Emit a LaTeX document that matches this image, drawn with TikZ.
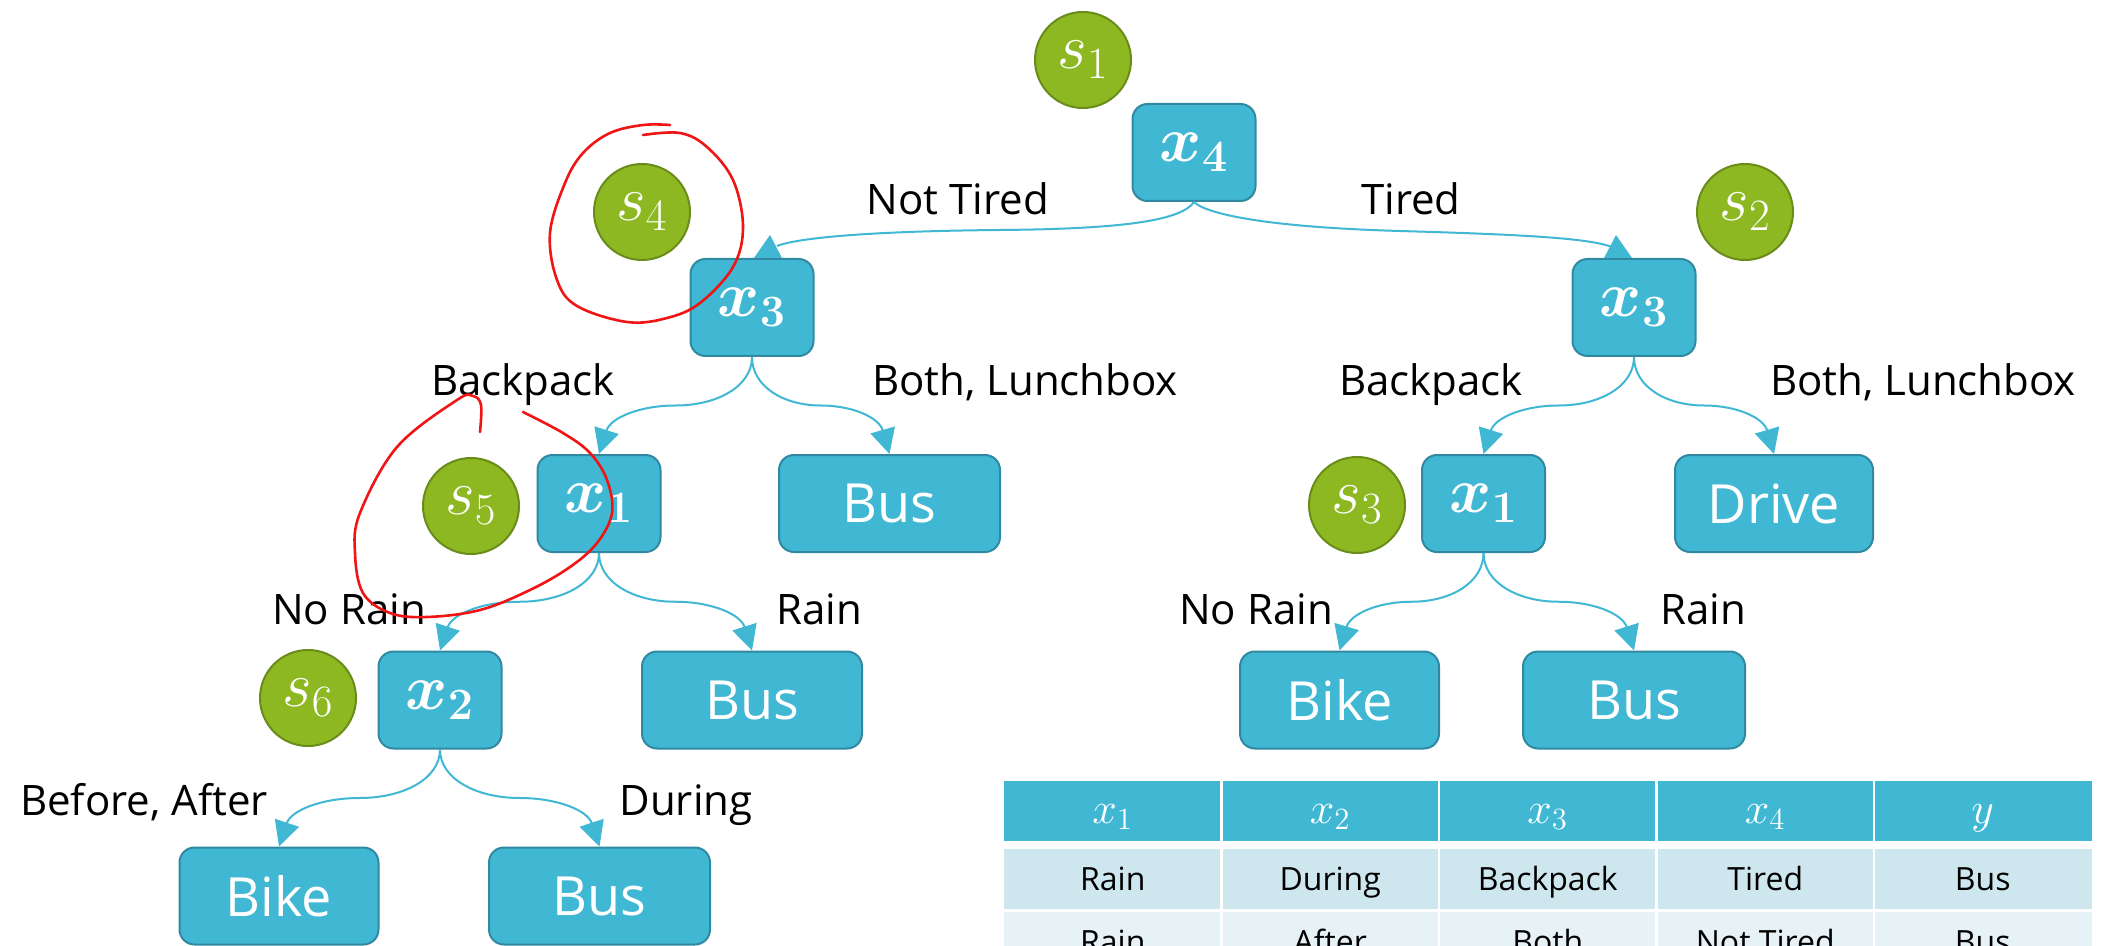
\RequirePackage{fix-cm}
\documentclass[tikz,border=0pt]{standalone}
\usepackage{amsmath}
\usepackage{fontspec}
\setmainfont{Open Sans}
\usetikzlibrary{arrows.meta,calc}
\definecolor{boxfill}{HTML}{41B8D3}
\definecolor{boxedge}{HTML}{3089A0}
\definecolor{circfill}{HTML}{8DB822}
\definecolor{circedge}{HTML}{6A8C1A}
\definecolor{linec}{HTML}{41B8D3}
\definecolor{rowa}{HTML}{CEE6EE}
\definecolor{rowb}{HTML}{E7F2F6}
\definecolor{redpen}{HTML}{F01414}
\newcommand\tbranch[2]{%
  \path ($(#1.south)!0.5!(#2.north)$) coordinate (m#1#2);
  \draw[conn] (#1.south) .. controls ($(#1.south)!0.6!(#1.south |- m#1#2)$) and ($(m#1#2)!0.55!(#1.south |- m#1#2)$) .. (m#1#2)
     .. controls ($(m#1#2)!0.47!(#2.north |- m#1#2)$) and ($(#2.north)!0.7!(#2.north |- m#1#2)!0.15!(m#1#2)$) .. (#2.north);
}
\begin{document}
\begin{tikzpicture}[x=0.5pt,y=-0.5pt,
  box/.style={draw=boxedge, fill=boxfill, rounded corners=7.5pt, line width=1pt,
    minimum height=48.5pt, text=white, inner sep=0pt, font=\fontsize{27}{27}\selectfont},
  mbox/.style={box, minimum width=61.5pt, font=\fontsize{32}{32}\selectfont},
  circ/.style={circle, draw=circedge, fill=circfill, line width=1pt, minimum size=48pt,
    inner sep=0pt, text=white, font=\fontsize{32}{32}\selectfont},
  lab/.style={font=\fontsize{21}{21}\selectfont, anchor=base, inner sep=0pt, text=black},
  conn/.style={draw=linec, line width=1pt, -{Triangle[length=12.5pt,width=12.5pt]}},
  topline/.style={draw=linec, line width=1pt},
  cell/.style={font=\fontsize{16}{16}\selectfont, anchor=base, inner sep=0pt, text=black},
  hdr/.style={font=\fontsize{22}{22}\selectfont, anchor=base, inner sep=0pt, text=white},
  pen/.style={draw=redpen, line width=1.3pt, line cap=round, line join=round}]
\clip (0,0) rectangle (2108,946);
\fill[white] (0,0) rectangle (2108,946);

% circles
\node[circ] (s1) at (1083,60) {$s_1$};
\node[circ] (s4) at (642,212) {$s_4$};
\node[circ] (s2) at (1745,212) {$s_2$};
\node[circ] (s5) at (471,506) {$s_5$};
\node[circ] (s3) at (1357,505) {$s_3$};
\node[circ] (s6) at (308,698) {$s_6$};

% boxes
\node[mbox] (x4) at (1194,152.5) {$\boldsymbol{x_4}$};
\node[mbox] (x3l) at (752,307.5) {$\boldsymbol{x_3}$};
\node[mbox] (x3r) at (1634,307.5) {$\boldsymbol{x_3}$};
\node[mbox] (x1l) at (599,503.5) {$\boldsymbol{x_1}$};
\node[mbox] (x1r) at (1483.5,503.5) {$\boldsymbol{x_1}$};
\node[mbox] (x2) at (440,700) {$\boldsymbol{x_2}$};
\node[box, minimum width=110.5pt] (busa) at (889.5,503.5) {Bus};
\node[box, minimum width=99pt] (drive) at (1774,503.5) {Drive};
\node[box, minimum width=110pt] (busb) at (752,700) {Bus};
\node[box, minimum width=99.5pt] (biker) at (1339.5,700) {Bike};
\node[box, minimum width=111pt] (busr) at (1634,700) {Bus};
\node[box, minimum width=99.5pt] (bikea) at (279,896) {Bike};
\node[box, minimum width=110.5pt] (busc) at (599.5,896) {Bus};

% top connectors
\draw[topline] (x4.south) .. controls +(-13,19) and +(120,-1) .. ($(x4.south)+(-194,28)$)
   .. controls +(-120,1) and +(23,-9) .. ($(x3l.north)+(25,-12)$);
\fill[linec] ($(x3l.north)+(18,-23)$) -- ($(x3l.north)+(2,0)$) -- ($(x3l.north)+(30,0)$) -- cycle;
\draw[topline] (x4.south) .. controls +(11,11) and +(-140,-4) .. ($(x4.south)+(206,29)$)
   .. controls +(140,4) and +(-22,-8) .. ($(x3r.north)+(-22,-11)$);
\fill[linec] ($(x3r.north)+(-18,-23)$) -- ($(x3r.north)+(-30,0)$) -- ($(x3r.north)+(-2,0)$) -- cycle;

% branch connectors
\tbranch{x3l}{x1l}
\tbranch{x3l}{busa}
\tbranch{x1l}{x2}
\tbranch{x1l}{busb}
\tbranch{x2}{bikea}
\tbranch{x2}{busc}
\tbranch{x3r}{x1r}
\tbranch{x3r}{drive}
\tbranch{x1r}{biker}
\tbranch{x1r}{busr}

% labels
\node[lab] (lnt) at (958,215) {Not Tired};
\node[lab] (lt) at (1411,215) {Tired};
\node[lab] (lbl) at (523,395) {Backpack};
\node[lab] (lbll) at (1025,395) {Both, Lunchbox};
\node[lab] (lbr) at (1431,395) {Backpack};
\node[lab] (lblr) at (1923,395) {Both, Lunchbox};
\node[lab] (lnrl) at (349,624) {No Rain};
\node[lab] (lrl) at (819,624) {Rain};
\node[lab] (lnrr) at (1256,624) {No Rain};
\node[lab] (lrr) at (1703,624) {Rain};
\node[lab] (lba) at (144,815) {Before, After};
\node[lab] (ldu) at (686,815) {During};

% table
\fill[boxfill] (1004,781) rectangle (2091.5,841);
\fill[rowa] (1004,849) rectangle (2091.5,909);
\fill[rowb] (1004,912) rectangle (2091.5,972);
\foreach \xx in {1221.5,1439,1656.5,1874} \draw[white, line width=1.2pt] (\xx,775) -- (\xx,980);
\foreach \cx/\h/\a/\b [count=\i] in {1112.75/x_1/Rain/Rain, 1330.25/x_2/During/After,
    1547.75/x_3/Backpack/Both, 1765.25/x_4/Tired/Not Tired, 1982.75/y/Bus/Bus} {
  \node[hdr] (h\i) at (\cx,823) {$\h$};
  \node[cell] (ra\i) at (\cx,890) {\a};
  \node[cell] (rb\i) at (\cx,953) {\b};
}

% red annotations
\draw[pen] plot[smooth, tension=0.6] coordinates {(670,125) (643,125) (610,133) (583,153) (565,183) (550,233)
  (557,280) (577,306) (627,322) (667,318) (700,303) (733,267) (743,227) (733,180) (707,147) (680,133) (643,135)};
\draw[pen] plot[smooth, tension=0.6] coordinates {(480,432) (481,405) (473,396) (457,400) (397,447) (360,513)
  (355,553) (363,593) (390,613) (427,617) (480,610) (530,590) (570,567) (597,543) (612,513) (607,480)
  (590,453) (563,433) (523,412)};
\end{tikzpicture}
\end{document}
